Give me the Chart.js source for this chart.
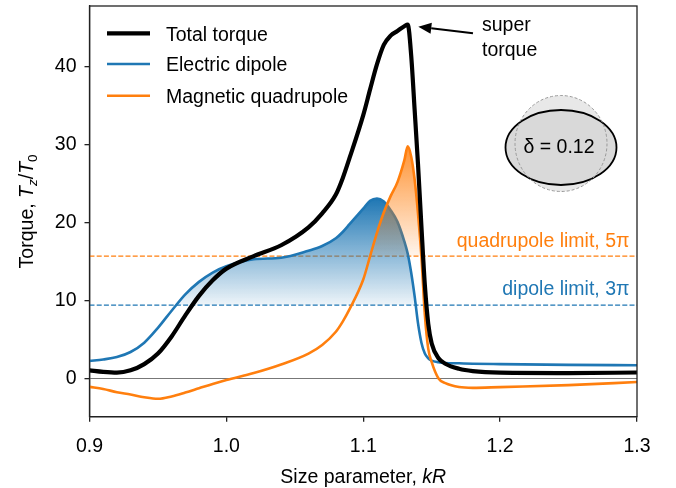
<!DOCTYPE html>
<html>
<head>
<meta charset="utf-8">
<script src="https://cdn.jsdelivr.net/npm/chart.js@4.4.1/dist/chart.umd.min.js"></script>
<style>
  html, body { margin: 0; padding: 0; background: #fff; }
  #wrap { width: 676px; height: 488px; }
</style>
</head>
<body>
<div id="wrap"><canvas id="myChart" width="676" height="488"></canvas></div>
<script>
// size parameter kR, shared by the three curves
const kR = [0.90, 0.91, 0.92, 0.93, 0.94, 0.95, 0.96, 0.97, 0.98, 0.99, 1.00,
    1.02, 1.04, 1.06, 1.07, 1.08, 1.085, 1.09, 1.10, 1.105, 1.11, 1.115, 1.12, 1.125,
    1.13, 1.1325, 1.135, 1.1375, 1.14, 1.1425, 1.145, 1.1475, 1.15, 1.155, 1.16,
    1.17, 1.18, 1.20, 1.25, 1.30];

const totalTorque = [1.05, 0.85, 0.75, 1.05, 1.85, 3.2, 5.4, 8.1, 10.6, 12.6, 14.1,
    15.7, 17.1, 19.4, 21.2, 23.6, 25.7, 28.3, 33.8, 37.1, 40.3, 42.8, 44.0, 44.6,
    45.2, 45.4, 41.5, 34.6, 27.5, 19.5, 12.0, 7.0, 4.5, 2.6, 1.9,
    1.25, 0.95, 0.75, 0.7, 0.77];

const electricDipole = [2.26, 2.45, 2.75, 3.4, 4.6, 6.5, 8.7, 10.8, 12.4, 13.6, 14.4,
    15.3, 15.5, 16.4, 17.0, 18.0, 18.8, 19.8, 21.8, 22.8, 23.1, 22.7, 21.6, 20.1,
    17.6, 16.0, 13.6, 10.6, 7.1, 4.6, 3.2, 2.6, 2.3, 2.1, 2.0,
    1.95, 1.9, 1.85, 1.75, 1.7];

const magneticQuadrupole = [-1.07, -1.35, -1.75, -2.05, -2.4, -2.6, -2.3, -1.8, -1.25, -0.7, -0.2,
    0.7, 1.8, 3.2, 4.3, 6.0, 7.3, 8.9, 12.7, 15.7, 18.7, 21.3, 23.4, 25.2,
    28.0, 29.8, 28.5, 25.6, 21.2, 15.6, 8.2, 3.8, 2.1, 0.0, -0.6,
    -1.1, -1.2, -1.1, -0.85, -0.45];

const seriesNames = ['Total torque', 'Electric dipole', 'Magnetic quadrupole'];
const limitRange = [0.9, 1.3];
const dipoleLimit = 3 * Math.PI;
const quadrupoleLimit = 5 * Math.PI;
const xTicks = [0.9, 1.0, 1.1, 1.2, 1.3];
const yTicks = [0, 10, 20, 30, 40];
const deformation = 0.12;

const BLUE = '#1f77b4';
const ORANGE = '#ff7f0e';
const FONT = '"Liberation Sans", Arial, sans-serif';

function toPoints(ys) {
    return kR.map((x, i) => ({x: x, y: ys[i]}));
}

function flatLine(value) {
    return limitRange.map(x => ({x: x, y: value}));
}

// vertical gradient from the curve peak down to the limit line
function peakGradient(rgb, topValue, bottomValue, aTop, aBottom) {
    return function (ctx) {
        const chart = ctx.chart;
        const y = chart.scales.y;
        if (!chart.chartArea || !y) return `rgba(${rgb},${aTop})`;
        const g = chart.ctx.createLinearGradient(0, y.getPixelForValue(topValue), 0, y.getPixelForValue(bottomValue));
        g.addColorStop(0, `rgba(${rgb},${aTop})`);
        g.addColorStop(1, `rgba(${rgb},${aBottom})`);
        return g;
    };
}

// draws a run of text pieces (normal / italic / subscript) centred on cx
function drawRichText(ctx, pieces, cx, cy) {
    let total = 0;
    for (const p of pieces) {
        ctx.font = p.font;
        p.w = ctx.measureText(p.t).width;
        total += p.w;
    }
    let x = cx - total / 2;
    ctx.textAlign = 'left';
    ctx.textBaseline = 'alphabetic';
    for (const p of pieces) {
        ctx.font = p.font;
        ctx.fillText(p.t, x, cy + (p.dy || 0));
        x += p.w;
    }
}

const decorPlugin = {
    id: 'decor',
    afterDatasetsDraw(chart) {
        const ctx = chart.ctx;
        const a = chart.chartArea;
        ctx.save();

        // deformed particle inset
        ctx.beginPath();
        ctx.ellipse(561, 143.5, 46, 48, 0, 0, 2 * Math.PI);
        ctx.fillStyle = '#e8e8e8';
        ctx.fill();
        ctx.beginPath();
        ctx.ellipse(561, 147.5, 55.5, 37.5, 0, 0, 2 * Math.PI);
        ctx.fillStyle = '#d9d9d9';
        ctx.fill();
        ctx.lineWidth = 1.8;
        ctx.strokeStyle = '#000';
        ctx.stroke();
        ctx.beginPath();
        ctx.ellipse(561, 143.5, 46, 48, 0, 0, 2 * Math.PI);
        ctx.setLineDash([3, 2]);
        ctx.lineWidth = 1;
        ctx.strokeStyle = '#999';
        ctx.stroke();
        ctx.setLineDash([]);

        ctx.fillStyle = '#000';
        ctx.font = '19.5px ' + FONT;
        ctx.textAlign = 'center';
        ctx.textBaseline = 'alphabetic';
        ctx.fillText('δ = ' + deformation.toFixed(2), 559, 153.3);

        // limit labels
        ctx.textAlign = 'right';
        ctx.fillStyle = ORANGE;
        ctx.fillText('quadrupole limit, 5π', 629.5, 246.5);
        ctx.fillStyle = BLUE;
        ctx.fillText('dipole limit, 3π', 629.5, 295);

        // super torque annotation
        ctx.fillStyle = '#000';
        ctx.textAlign = 'left';
        ctx.fillText('super', 482, 30.5);
        ctx.fillText('torque', 482, 55.5);
        const sx = 473, sy = 33.3, tx = 418.3, ty = 26.7;
        const len = Math.hypot(tx - sx, ty - sy);
        const ux = (tx - sx) / len, uy = (ty - sy) / len;
        const hx = tx - ux * 13, hy = ty - uy * 13;
        ctx.beginPath();
        ctx.moveTo(sx, sy);
        ctx.lineTo(hx, hy);
        ctx.lineWidth = 2;
        ctx.strokeStyle = '#000';
        ctx.stroke();
        ctx.beginPath();
        ctx.moveTo(tx, ty);
        ctx.lineTo(hx - uy * 5.5, hy + ux * 5.5);
        ctx.lineTo(hx + uy * 5.5, hy - ux * 5.5);
        ctx.closePath();
        ctx.fill();

        // legend
        const rows = [33.3, 64, 95.7];
        const sets = chart.data.datasets.slice(0, 3);
        sets.forEach((ds, i) => {
            ctx.beginPath();
            ctx.moveTo(107, rows[i]);
            ctx.lineTo(150, rows[i]);
            ctx.lineWidth = ds.borderWidth;
            ctx.strokeStyle = ds.borderColor;
            ctx.stroke();
            ctx.fillStyle = '#000';
            ctx.font = '19.5px ' + FONT;
            ctx.textAlign = 'left';
            ctx.textBaseline = 'alphabetic';
            ctx.fillText(ds.label, 166, rows[i] + 7.3);
        });

        // frame
        ctx.lineWidth = 1.3;
        ctx.strokeStyle = '#222';
        ctx.strokeRect(a.left, a.top, a.right - a.left, a.bottom - a.top);
        ctx.restore();
    },
    afterDraw(chart) {
        const ctx = chart.ctx;
        const a = chart.chartArea;
        ctx.save();
        ctx.fillStyle = '#000';
        const big = '19.5px ' + FONT;
        const bigIt = 'italic 19.5px ' + FONT;
        const small = '13.6px ' + FONT;
        const smallIt = 'italic 13.6px ' + FONT;
        drawRichText(ctx, [
            {t: 'Size parameter, ', font: big},
            {t: 'kR', font: bigIt}
        ], (a.left + a.right) / 2, 483.3);

        ctx.translate(33, (a.top + a.bottom) / 2);
        ctx.rotate(-Math.PI / 2);
        drawRichText(ctx, [
            {t: 'Torque, ', font: big},
            {t: 'T', font: bigIt},
            {t: 'z', font: smallIt, dy: 4},
            {t: '/', font: big},
            {t: 'T', font: bigIt},
            {t: '0', font: small, dy: 4}
        ], 0, 0);
        ctx.restore();
    }
};

const ctx = document.getElementById('myChart');
const myChart = new Chart(ctx, {
    type: 'line',
    data: {
        datasets: [
            {
                label: seriesNames[0],
                data: toPoints(totalTorque),
                borderColor: '#000',
                borderWidth: 4.2,
                fill: false,
                order: 0
            },
            {
                label: seriesNames[1],
                data: toPoints(electricDipole),
                borderColor: BLUE,
                borderWidth: 2.6,
                backgroundColor: peakGradient('31,119,180', Math.max(...electricDipole), dipoleLimit, 1, 0.08),
                fill: {target: {value: dipoleLimit}, below: 'rgba(0,0,0,0)'},
                order: 2
            },
            {
                label: seriesNames[2],
                data: toPoints(magneticQuadrupole),
                borderColor: ORANGE,
                borderWidth: 2.6,
                backgroundColor: peakGradient('255,127,14', Math.max(...magneticQuadrupole), quadrupoleLimit, 0.85, 0.08),
                fill: {target: {value: quadrupoleLimit}, below: 'rgba(0,0,0,0)'},
                order: 1
            },
            {
                label: 'quadrupole limit',
                data: flatLine(quadrupoleLimit),
                borderColor: ORANGE,
                borderWidth: 1.3,
                borderDash: [5, 2.2],
                fill: false,
                order: 3
            },
            {
                label: 'dipole limit',
                data: flatLine(dipoleLimit),
                borderColor: BLUE,
                borderWidth: 1.3,
                borderDash: [5, 2.2],
                fill: false,
                order: 3
            },
            {
                label: 'zero',
                data: flatLine(0),
                borderColor: '#777',
                borderWidth: 1.2,
                fill: false,
                order: 4
            }
        ]
    },
    options: {
        responsive: false,
        animation: false,
        events: [],
        layout: {padding: {top: 6, right: 39, left: 0, bottom: 0}},
        elements: {
            point: {radius: 0},
            line: {cubicInterpolationMode: 'monotone', borderCapStyle: 'butt', borderJoinStyle: 'round'}
        },
        plugins: {
            legend: {display: false},
            tooltip: {enabled: false}
        },
        scales: {
            x: {
                type: 'linear',
                min: 0.9,
                max: 1.3,
                afterBuildTicks: scale => { scale.ticks = xTicks.map(v => ({value: v})); },
                afterFit: scale => { scale.height = 71.3; scale.paddingLeft = 0; scale.paddingRight = 0; },
                grid: {drawOnChartArea: false, drawTicks: true, tickLength: 5, color: '#222', lineWidth: 1.3},
                border: {display: true, color: '#222', width: 1.3},
                ticks: {
                    color: '#000',
                    font: {family: FONT, size: 19.5},
                    padding: 13,
                    maxRotation: 0,
                    callback: v => Number(v).toFixed(1)
                }
            },
            y: {
                min: -4.9,
                max: 47.8,
                afterBuildTicks: scale => { scale.ticks = yTicks.map(v => ({value: v})); },
                afterFit: scale => { scale.width = 89.5; scale.paddingTop = 0; scale.paddingBottom = 0; },
                grid: {drawOnChartArea: false, drawTicks: true, tickLength: 5, color: '#222', lineWidth: 1.3},
                border: {display: true, color: '#222', width: 1.3},
                ticks: {
                    color: '#000',
                    font: {family: FONT, size: 19.5},
                    padding: 8
                }
            }
        }
    },
    plugins: [decorPlugin]
});
</script>
</body>
</html>
